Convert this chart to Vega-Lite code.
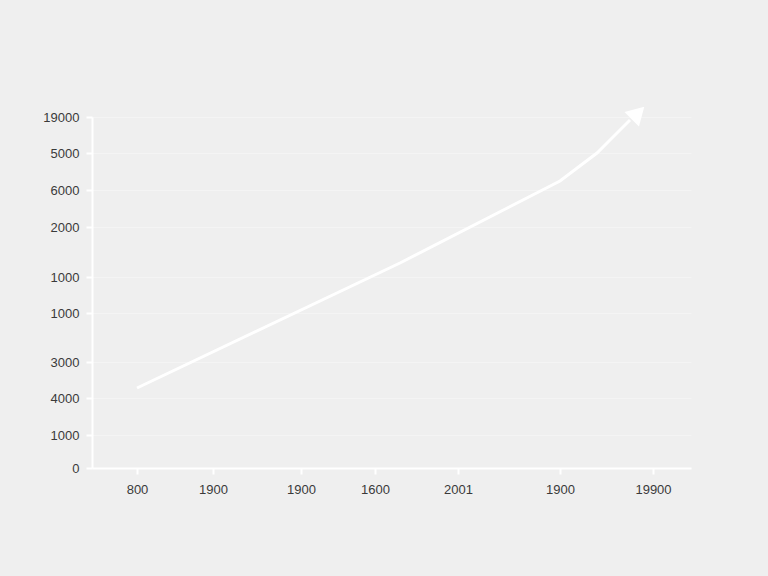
{
  "$schema": "https://vega.github.io/schema/vega-lite/v6.json",
  "width": 599,
  "height": 351,
  "autosize": {"type": "none"},
  "padding": {"left": 92, "top": 117, "right": 77, "bottom": 108},
  "background": "#efefef",
  "config": {
    "view": {"stroke": null},
    "font": "Liberation Sans",
    "axis": {
      "domainColor": "#ffffff",
      "domainWidth": 2,
      "tickColor": "#ffffff",
      "tickWidth": 2,
      "tickSize": 6,
      "labelColor": "#3a3a3a",
      "labelFontSize": 13,
      "labelOverlap": false,
      "labelFlush": false,
      "labelBound": false,
      "gridColor": "#ffffff",
      "gridOpacity": 0.35,
      "title": null
    }
  },
  "layer": [
    {
      "data": {
        "values": [
          {"x": 45, "y": 80},
          {"x": 308, "y": 205},
          {"x": 468, "y": 287},
          {"x": 505, "y": 315},
          {"x": 518, "y": 328},
          {"x": 538, "y": 348}
        ]
      },
      "mark": {"type": "line", "color": "#ffffff", "strokeWidth": 3, "interpolate": "linear", "clip": false},
      "encoding": {
        "x": {
          "field": "x",
          "type": "quantitative",
          "scale": {"domain": [0, 599], "nice": false, "zero": false},
          "axis": {
            "values": [45, 121, 209, 283, 366, 468, 561],
            "tickCount": 20,
            "labelExpr": "['800','1900','1900','1600','2001','1900','19900'][indexof([45,121,209,283,366,468,561], datum.value)]",
            "labelPadding": 9,
            "grid": false
          }
        },
        "y": {
          "field": "y",
          "type": "quantitative",
          "scale": {"domain": [0, 351], "nice": false, "zero": false},
          "axis": {
            "values": [0, 33, 70, 106, 155, 191, 241, 278, 315, 351],
            "tickCount": 20,
            "labelExpr": "['0','1000','4000','3000','1000','1000','2000','6000','5000','19000'][indexof([0,33,70,106,155,191,241,278,315,351], datum.value)]",
            "labelPadding": 7,
            "grid": true
          }
        }
      }
    },
    {
      "data": {"values": [{"x": 546, "y": 355}]},
      "mark": {"type": "point", "shape": "triangle-up", "filled": true, "color": "#ffffff", "opacity": 1, "size": 420, "angle": 45, "clip": false},
      "encoding": {
        "x": {"field": "x", "type": "quantitative"},
        "y": {"field": "y", "type": "quantitative"}
      }
    }
  ]
}
